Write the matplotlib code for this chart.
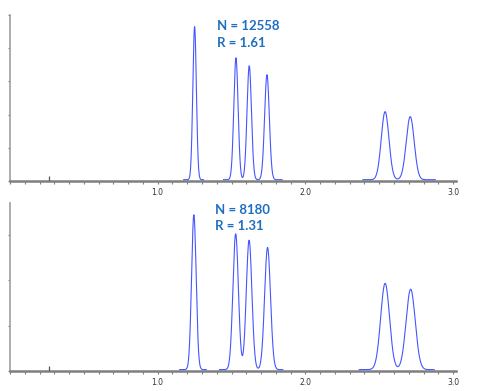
import numpy as np
import matplotlib
matplotlib.use('Agg')
import matplotlib.pyplot as plt
from matplotlib.ticker import MultipleLocator, FixedLocator, FormatStrFormatter

# peak data (retention time, height, sigma)
top_centers = [1.25, 1.53, 1.62, 1.74, 2.54, 2.71]
top_heights = [4.61, 3.67, 3.43, 3.16, 2.05, 1.90]
top_sigmas = [0.012, 0.0145, 0.015, 0.016, 0.026, 0.027]
top_windows = [(1.176, 1.311), (1.446, 1.843), (2.39, 2.88)]
top_label = ['N = 12558', 'R = 1.61']

bot_centers = [1.245, 1.528, 1.619, 1.744, 2.54, 2.713]
bot_heights = [3.41, 2.99, 2.85, 2.69, 1.90, 1.77]
bot_sigmas = [0.0155, 0.0185, 0.019, 0.020, 0.030, 0.031]
bot_windows = [(1.149, 1.329), (1.419, 1.847), (2.365, 2.872)]
bot_label = ['N = 8180', 'R = 1.31']

marker_time = 0.265
xticks_major = [1.0, 2.0, 3.0]

TRACE = '#4656ff'
AXIS = '#7f7f7f'
TEXT = '#1f6fc0'


def trace(t, centers, heights, sigmas):
    y = np.zeros_like(t)
    for c, h, s in zip(centers, heights, sigmas):
        y += h * np.exp(-0.5 * ((t - c) / s) ** 2)
    return y


def panel(ax, centers, heights, sigmas, windows, label, ymax, nyt, base, mark_h, text_xy):
    for a, b in windows:
        t = np.linspace(a, b, 800)
        ax.plot(t, trace(t, centers, heights, sigmas) + base, color=TRACE, lw=0.8, zorder=3, clip_on=False)
    ax.set_xlim(0, 3.02)
    ax.set_ylim(0, ymax)
    for s in ['top', 'right']: ax.spines[s].set_visible(False)
    ax.spines['bottom'].set_color(AXIS)
    ax.spines['bottom'].set_linewidth(1.8)
    ax.spines['left'].set_color('#a0a0a0')
    ax.spines['left'].set_linewidth(1.2)
    ax.xaxis.set_major_locator(FixedLocator(xticks_major))
    ax.xaxis.set_minor_locator(MultipleLocator(0.1))
    ax.xaxis.set_major_formatter(FormatStrFormatter('%.1f'))
    ax.tick_params(axis='x', which='both', direction='out', length=2.2, width=0.8, color=AXIS,
                   labelsize=5.5, labelcolor='#333333', pad=3)
    ax.set_yticks(range(nyt))
    ax.tick_params(axis='y', direction='out', length=1.5, width=0.8, color=AXIS, labelleft=False)
    ax.vlines(marker_time, 0, mark_h, color='#555555', lw=0.9, zorder=4)
    tx, ty = text_xy
    ax.text(tx, ty[0], label[0], color=TEXT, fontsize=9.5, fontweight='bold', family='Lato',
            va='center', ha='left')
    ax.text(tx, ty[1], label[1], color=TEXT, fontsize=9.5, fontweight='bold', family='Lato',
            va='center', ha='left')


fig = plt.figure(figsize=(4.85, 3.91), dpi=100)
ax1 = fig.add_axes([0.0206, 0.537, 0.9196, 0.4246])
ax2 = fig.add_axes([0.0206, 0.0512, 0.9196, 0.4297])

panel(ax1, top_centers, top_heights, top_sigmas, top_windows, top_label, 5.0, 6, 0.04, 0.16,
      (1.405, (4.67, 4.16)))
panel(ax2, bot_centers, bot_heights, bot_sigmas, bot_windows, bot_label, 3.7, 4, 0.03, 0.12,
      (1.385, (3.55, 3.19)))

fig.savefig('out.png', dpi=100)
